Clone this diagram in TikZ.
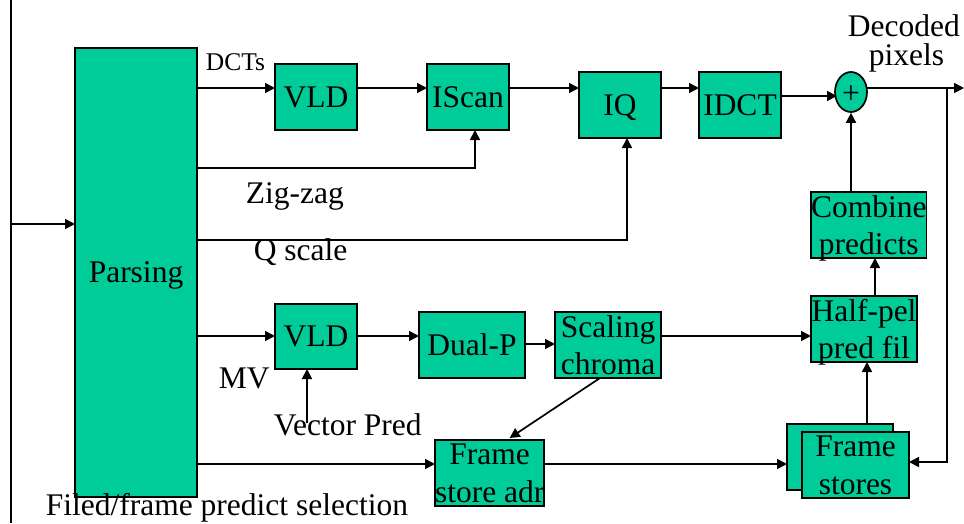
\documentclass[tikz,border=0pt]{standalone}
\usepackage{fontspec}
\setmainfont{Liberation Serif}
\usetikzlibrary{arrows.meta,shapes.geometric}
\definecolor{boxgreen}{RGB}{0,204,153}
\begin{document}
\begin{tikzpicture}[x=1pt,y=-1pt,
  line width=1.7pt,
  big/.style={font=\fontsize{31.5pt}{37.5pt}\selectfont},
  blk/.style={big, draw=black, fill=boxgreen, rectangle, inner sep=0pt, outer sep=0pt,
    anchor=north west, align=center, text depth=0pt},
  lbl/.style={big, inner sep=0pt, anchor=base west},
  arr/.style={-{Triangle[length=10pt,width=10pt]}},
]
\useasboundingbox (0,0) rectangle (964,523);

% blocks
\node[blk, minimum width=122pt, minimum height=449pt] (Parsing) at (75,48) {Parsing};
\node[blk, minimum width=82pt, minimum height=66pt] (VLDa) at (275,64) {VLD};
\node[blk, minimum width=82pt, minimum height=66pt] (IScan) at (427,64) {IScan};
\node[blk, minimum width=82pt, minimum height=66pt] (IQ) at (579,72) {IQ};
\node[blk, minimum width=82pt, minimum height=66pt] (IDCT) at (699,72) {IDCT};
\node[blk, minimum width=106pt, minimum height=66pt] (Combine) at (811,192) {Combine\\predicts};
\node[blk, minimum width=82pt, minimum height=65pt] (VLDb) at (275,304) {VLD};
\node[blk, minimum width=106pt, minimum height=66pt] (DualP) at (419,312) {Dual-P};
\node[blk, minimum width=106pt, minimum height=66pt] (Scaling) at (555,312) {Scaling\\chroma};
\node[blk, minimum width=106pt, minimum height=66pt] (Halfpel) at (811,296) {Half-pel\\pred fil};
\node[blk, minimum width=106pt, minimum height=66pt] (Fsadr) at (435,440) {Frame\\store adr};
\node[blk, minimum width=106pt, minimum height=66pt] (FSback) at (787,424) {};
\node[blk, minimum width=107pt, minimum height=66pt] (FSfront) at (802,432) {Frame\\stores};
\node[big, draw=black, fill=boxgreen, ellipse, inner sep=0pt, minimum width=32pt,
  minimum height=40pt, text height=22pt, text depth=0pt] (plus) at (851,92) {+};

% input bus
\coordinate (busT) at (11,0);
\coordinate (busB) at (11,523);
\draw (busT) -- (busB);
\coordinate (inp) at (11,224);
\draw[arr] (inp) -- (inp -| Parsing.west);

% DCT path
\coordinate (pD) at (197,88);
\draw[arr] (pD) -- (pD -| VLDa.west);
\draw[arr] (VLDa.east |- pD) -- (IScan.west |- pD);
\draw[arr] (IScan.east |- pD) -- (IQ.west |- pD);
\draw[arr] (IQ.east |- pD) -- (IDCT.west |- pD);
\coordinate (pin) at (837,96);
\draw[arr] (IDCT.east |- pin) -- (pin);
\coordinate (pout) at (867,88);
\coordinate (outE) at (964,88);
\draw[arr] (pout) -- (outE);
\coordinate (fbT) at (947,88);
\coordinate (fbB) at (947,462);
\draw[arr] (fbT) -- (fbB) -- (fbB -| FSfront.east);

% zig-zag and Q scale
\coordinate (pZ) at (197,168);
\coordinate (zc) at (475,168);
\draw[arr] (pZ) -- (zc) -- (zc |- IScan.south);
\coordinate (pQ) at (197,240);
\coordinate (qc) at (627,240);
\draw[arr] (pQ) -- (qc) -- (qc |- IQ.south);

% MV path
\coordinate (pM) at (197,336);
\draw[arr] (pM) -- (pM -| VLDb.west);
\draw[arr] (VLDb.east |- pM) -- (DualP.west |- pM);
\coordinate (dq) at (525,344);
\draw[arr] (dq) -- (dq -| Scaling.west);
\draw[arr] (Scaling.east |- pM) -- (Halfpel.west |- pM);
\coordinate (vp) at (307,423);
\draw[arr] (vp) -- (vp |- VLDb.south);
\draw[arr] ([xshift=-8pt]Scaling.south) -- ([xshift=20pt,yshift=2pt]Fsadr.north);

% frame store path
\coordinate (pF) at (197,464);
\draw[arr] (pF) -- (pF -| Fsadr.west);
\draw[arr] (Fsadr.east |- pF) -- (FSback.west |- pF);
\coordinate (fh) at (867,424);
\draw[arr] (fh) -- (fh |- Halfpel.south);
\coordinate (hc) at (875,296);
\draw[arr] (hc) -- (hc |- Combine.south);
\draw[arr] (plus.south |- Combine.north) -- (plus.south);

% labels
\node[lbl, font=\fontsize{25.5pt}{30pt}\selectfont] (tDCT) at (205,70) {DCTs};
\node[lbl] (tZig) at (245,203) {Zig-zag};
\node[lbl] (tQ) at (253,260) {Q scale};
\node[lbl] (tMV) at (218,388) {MV};
\node[lbl] (tVP) at (273,435) {Vector Pred};
\node[lbl] (tSel) at (45,515) {Filed/frame predict selection};
\node[lbl] (tDec) at (847,36) {Decoded};
\node[lbl] (tPix) at (868,65) {pixels};
\end{tikzpicture}
\end{document}
